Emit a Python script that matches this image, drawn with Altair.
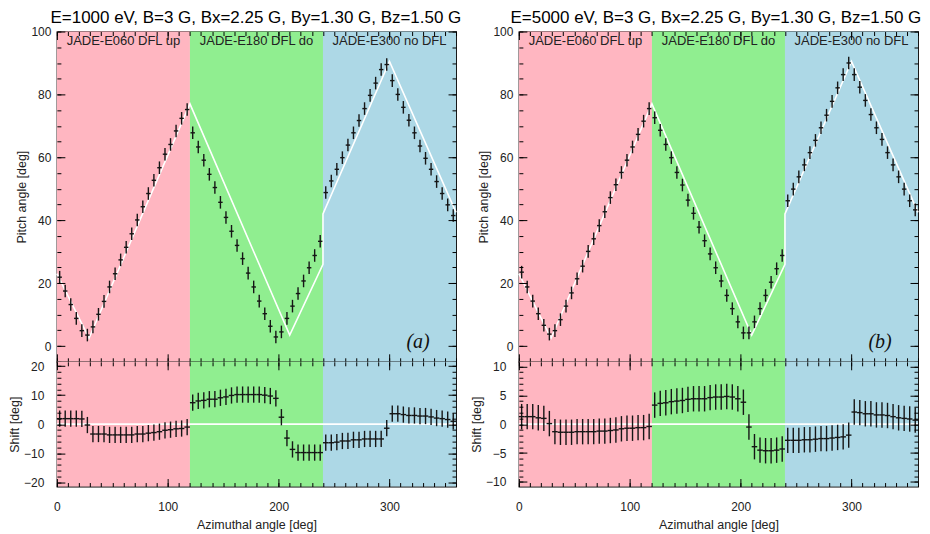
import altair as alt
import pandas as pd

FONT = "Liberation Sans"

# ---------------- data ----------------
azimuth = [2.5, 7.5, 12.5, 17.5, 22.5, 27.5, 32.5, 37.5, 42.5, 47.5, 52.5, 57.5,
           62.5, 67.5, 72.5, 77.5, 82.5, 87.5, 92.5, 97.5, 102.5, 107.5, 112.5, 117.5,
           122.5, 127.5, 132.5, 137.5, 142.5, 147.5, 152.5, 157.5, 162.5, 167.5, 172.5, 177.5,
           182.5, 187.5, 192.5, 197.5, 202.5, 207.5, 212.5, 217.5, 222.5, 227.5, 232.5, 237.5,
           242.5, 247.5, 252.5, 257.5, 262.5, 267.5, 272.5, 277.5, 282.5, 287.5, 292.5, 297.5,
           302.5, 307.5, 312.5, 317.5, 322.5, 327.5, 332.5, 337.5, 342.5, 347.5, 352.5, 357.5]

pitch_a = [21.9, 17.5, 13.2, 8.8, 4.9, 3.5, 6.1, 10.1, 14.2, 18.8, 23.0, 27.4,
           31.4, 35.7, 40.1, 44.3, 48.5, 52.7, 56.7, 61.0, 64.1, 68.4, 72.4, 75.2,
           67.8, 63.3, 59.1, 54.6, 50.4, 45.7, 40.9, 36.5, 32.0, 27.8, 23.2, 18.8,
           14.3, 10.3, 6.3, 2.9, 4.5, 8.8, 12.7, 16.7, 20.7, 24.9, 28.8, 33.3,
           48.8, 52.5, 56.2, 59.9, 63.9, 67.8, 71.7, 75.5, 79.7, 83.6, 87.9, 89.5,
           84.4, 80.0, 75.9, 71.8, 67.8, 63.6, 59.7, 56.2, 52.3, 48.5, 44.9, 41.5]

pitch_b = [23.5, 18.8, 14.3, 10.3, 6.6, 3.8, 4.9, 8.4, 12.7, 16.9, 21.4, 25.4,
           30.1, 34.1, 38.3, 42.7, 47.2, 51.3, 55.2, 59.1, 63.3, 67.3, 71.5, 75.5,
           72.6, 68.6, 64.1, 59.9, 55.2, 51.2, 46.4, 42.2, 37.8, 33.5, 29.3, 24.9,
           20.7, 16.1, 11.9, 7.7, 4.2, 4.2, 7.7, 11.9, 16.1, 20.3, 24.6, 28.8,
           46.2, 49.9, 53.8, 57.6, 61.5, 65.4, 69.4, 73.4, 77.8, 82.1, 86.3, 90.0,
           86.3, 82.3, 78.1, 73.6, 69.4, 65.7, 61.5, 57.6, 53.8, 49.9, 46.2, 43.3]

shift_a = [1.9, 1.9, 1.9, 1.9, 1.8, -0.3, -3.4, -3.4, -3.4, -3.7, -3.7, -3.7,
           -3.7, -3.7, -3.4, -3.4, -3.1, -2.9, -2.6, -2.1, -1.9, -1.6, -1.5, -1.0,
           7.4, 8.0, 8.2, 8.6, 8.6, 9.1, 9.4, 9.9, 10.2, 10.2, 10.2, 10.2,
           10.2, 10.0, 9.7, 8.9, 2.4, -4.8, -8.7, -9.8, -9.8, -9.8, -9.8, -9.8,
           -6.4, -6.4, -6.2, -5.8, -5.8, -5.4, -5.4, -5.1, -5.1, -5.1, -5.1, -1.4,
           3.6, 3.6, 3.3, 3.0, 3.0, 2.8, 2.8, 2.5, 2.1, 1.9, 1.6, 1.0]

shift_b = [1.3, 1.3, 1.3, 1.1, 1.0, 0.1, -1.3, -1.4, -1.4, -1.4, -1.3, -1.3,
           -1.3, -1.3, -1.2, -1.2, -1.1, -1.0, -0.8, -0.7, -0.7, -0.6, -0.6, -0.4,
           3.3, 3.6, 3.7, 3.9, 4.0, 4.1, 4.3, 4.4, 4.4, 4.4, 4.6, 4.7,
           4.7, 4.8, 4.7, 4.4, 3.8, -0.5, -3.9, -4.5, -4.6, -4.6, -4.5, -4.3,
           -2.8, -2.8, -2.8, -2.7, -2.7, -2.6, -2.5, -2.5, -2.4, -2.3, -2.2, -1.9,
           2.1, 2.0, 1.8, 1.8, 1.6, 1.6, 1.5, 1.3, 1.1, 1.0, 0.9, 0.7]

model_az = [0, 29, 120, 210, 240, 240, 300, 360]
model_pitch = [23.0, 2.5, 77.0, 3.5, 26.0, 42.0, 90.5, 42.5]
shift_model_az = [0, 360]
shift_model = [0, 0]

pitch_err_a, pitch_err_b = 2.0, 2.0
shift_err_a, shift_err_b = 2.8, 2.2
az_err_top, az_err_bot = 2.0, 2.5

region_start = [0, 120, 240]
region_end = [120, 240, 360]
region_labels = ["JADE-E060 DFL up", "JADE-E180 DFL do", "JADE-E300 no DFL"]
region_colors = ["#FFB6C1", "#90EE90", "#ADD8E6"]

titles = ["E=1000 eV, B=3 G, Bx=2.25 G, By=1.30 G, Bz=1.50 G",
          "E=5000 eV, B=3 G, Bx=2.25 G, By=1.30 G, Bz=1.50 G"]
title_dx = [22, 20]
tags = ["(a)", "(b)"]

# ---------------- layout constants ----------------
W = 400
HT = 331
HB = 125
MAJ, MIN = 8, 4

reg = pd.DataFrame({"start": region_start, "end": region_end,
                    "label": region_labels, "color": region_colors})
reg["mid"] = (reg["start"] + reg["end"]) / 2


def axis(orient, values, size, labels=False, title=None, label_pad=5, title_pad=3):
    kw = dict(orient=orient, values=values, tickSize=size, offset=-size,
              domain=False, grid=False, labels=labels, ticks=True,
              tickColor="black", tickWidth=1, zindex=2)
    if labels:
        kw.update(labelFont=FONT, labelFontSize=12, labelColor="#222",
                  labelPadding=label_pad, labelFlush=False, labelOverlap=False)
    if title:
        kw.update(title=title, titleFont=FONT, titleFontSize=12.5,
                  titleFontWeight="normal", titleColor="#222", titlePadding=title_pad)
    else:
        kw["title"] = None
    return alt.Axis(**kw)


def panel(vals, err, xerr, mx, my, ydom, ymaj, ymin, h, bottom, ytitle, ylabpad, tag=None):
    xs = alt.Scale(domain=[0, 360], nice=False, zero=False)
    ys = alt.Scale(domain=ydom, nice=False, zero=False)
    pts = pd.DataFrame({"az": azimuth, "v": vals})
    pts["lo"] = pts["v"] - err
    pts["hi"] = pts["v"] + err
    pts["xlo"] = pts["az"] - xerr
    pts["xhi"] = pts["az"] + xerr
    mdf = pd.DataFrame({"az": mx, "v": my})

    xmaj = [0, 100, 200, 300]
    xmin = list(range(0, 361, 10))

    bg = alt.Chart(reg).mark_rect().encode(
        x=alt.X("start:Q", scale=xs, axis=None), x2="end",
        y=alt.value(0), y2=alt.value(h),
        color=alt.Color("color:N", scale=None, legend=None))
    model = alt.Chart(mdf).mark_line(color="white", strokeWidth=1.6).encode(
        x=alt.X("az:Q", scale=xs, axis=axis("bottom", xmin, MIN)),
        y=alt.Y("v:Q", scale=ys, axis=axis("left", ymin, MIN)))
    vbar = alt.Chart(pts).mark_rule(color="#151515", strokeWidth=1.4).encode(
        x=alt.X("az:Q", scale=xs,
                axis=axis("bottom", xmaj, MAJ, labels=bottom,
                          title="Azimuthal angle [deg]" if bottom else None,
                          label_pad=15, title_pad=6)),
        y=alt.Y("lo:Q", scale=ys,
                axis=axis("left", ymaj, MAJ, labels=True, title=ytitle,
                          label_pad=ylabpad, title_pad=2)),
        y2="hi")
    hbar = alt.Chart(pts).mark_rule(color="#151515", strokeWidth=1.4).encode(
        x=alt.X("xlo:Q", scale=xs, axis=axis("top", xmaj, MAJ)),
        x2="xhi",
        y=alt.Y("v:Q", scale=ys, axis=axis("right", ymaj, MAJ)))
    ghost = alt.Chart(pts).mark_point(opacity=0).encode(
        x=alt.X("az:Q", scale=xs, axis=axis("top", xmin, MIN)),
        y=alt.Y("v:Q", scale=ys, axis=axis("right", ymin, MIN)))
    layers = [bg]
    if not bottom:
        layers.append(alt.Chart(reg).mark_text(font=FONT, fontSize=13, baseline="top",
                                               color="#222").encode(
            x=alt.X("mid:Q", scale=xs, axis=None), y=alt.value(4), text="label:N"))
    layers += [model, vbar, hbar, ghost]
    if tag:
        layers.append(alt.Chart(pd.DataFrame({"t": [tag]})).mark_text(
            font="Liberation Serif", fontSize=20, fontStyle="italic",
            align="center", baseline="middle", color="#111").encode(
            x=alt.value(362), y=alt.value(311), text="t:N"))
    return alt.layer(*layers).resolve_axis(x="independent", y="independent").properties(
        width=W, height=h)


def column(i, pitch, perr, shift, serr, sdom, smaj, smin):
    top = panel(pitch, perr, az_err_top, model_az, model_pitch, [-5, 100],
                list(range(0, 101, 20)), list(range(-5, 101, 5)), HT, False,
                "Pitch angle [deg]", 6, tags[i])
    bot = panel(shift, serr, az_err_bot, shift_model_az, shift_model, sdom,
                smaj, smin, HB, True, "Shift [deg]", 13)
    return alt.vconcat(top, bot, spacing=0, bounds="flush",
                       title=alt.TitleParams(text=titles[i], font=FONT, fontSize=17,
                                             fontWeight="normal", color="black",
                                             anchor="middle", dx=title_dx[i], offset=-2))


left = column(0, pitch_a, pitch_err_a, shift_a, shift_err_a, [-21.5, 21.5],
              [-20, -10, 0, 10, 20], list(range(-20, 21, 2)))
right = column(1, pitch_b, pitch_err_b, shift_b, shift_err_b, [-10.8, 10.8],
               [-10, -5, 0, 5, 10], list(range(-10, 11, 1)))

chart = alt.hconcat(left, right, spacing=8).properties(
    padding={"left": 0, "top": 0, "right": 0, "bottom": 0}
).configure_view(stroke="black", strokeWidth=1.2)

chart.save("out.html", embed_options={"renderer": "svg", "actions": False})
